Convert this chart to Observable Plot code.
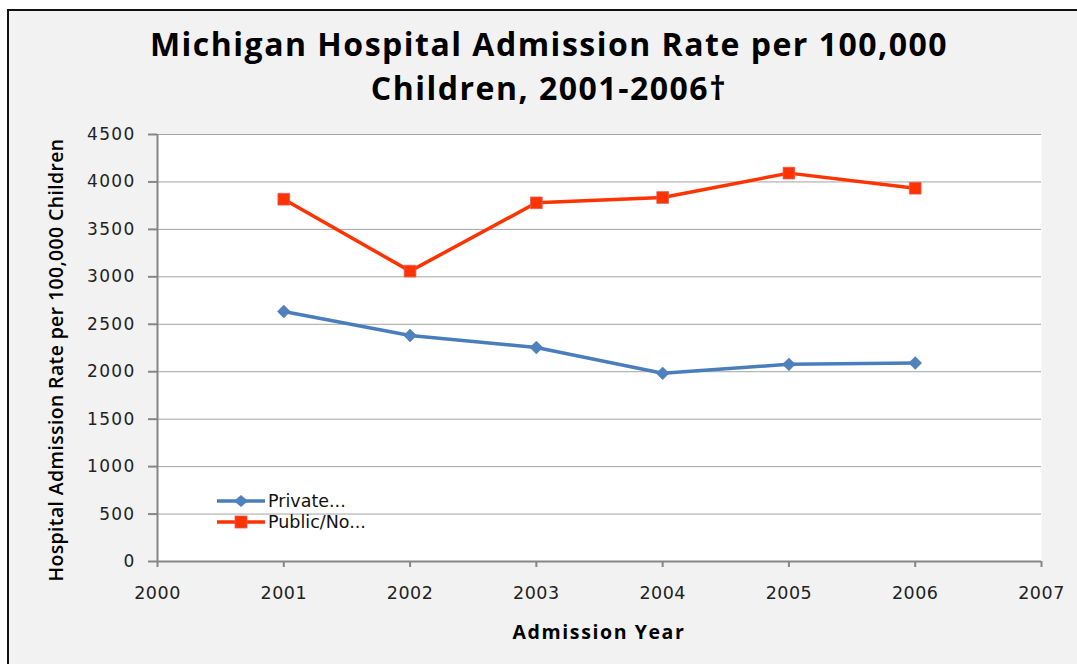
<!DOCTYPE html>
<html>
<head>
<meta charset="utf-8">
<script src="https://cdn.jsdelivr.net/npm/d3@7"></script>
<script src="https://cdn.jsdelivr.net/npm/@observablehq/plot@0.6"></script>
<style>
  html, body { margin: 0; padding: 0; background: #ffffff; }
  body { width: 1077px; height: 664px; position: relative; overflow: hidden; }
  #frame { position: absolute; left: 7px; top: 9px; width: 1200px; height: 800px;
           border-left: 2px solid #111; border-top: 2px solid #111; background: #f2f2f2; }
  #chart { position: absolute; left: 0; top: 0; }
  .title { position: absolute; left: 549px; top: 22px; transform: translateX(-50%);
           font-family: "Open Sans", sans-serif; font-weight: 700; font-size: 32px; letter-spacing: 1.5px;
           line-height: 44px; text-align: center; white-space: nowrap; color: #000; }
  .xlabel { position: absolute; left: 599px; top: 619px; transform: translateX(-50%);
            font-family: "Open Sans", sans-serif; font-weight: 700; font-size: 19.5px; letter-spacing: 1.6px;
            line-height: 26px; white-space: nowrap; color: #000; }
  .ylabel { position: absolute; left: 56px; top: 360px; transform: translate(-50%, -50%) rotate(-90deg);
            font-family: "Open Sans", sans-serif; font-weight: 600; font-size: 19.5px; letter-spacing: 0.35px;
            line-height: 24px; white-space: nowrap; color: #000; }
  .legend { position: absolute; left: 217px; top: 490px; font-family: "DejaVu Sans", sans-serif;
            font-size: 17.5px; color: #111; }
  .legend .row { display: flex; align-items: center; height: 21.5px; }
  .legend svg { display: block; margin-right: 3px; }
  g[aria-label="y-axis tick label"] text { letter-spacing: 1.3px; }
  g[aria-label="x-axis tick label"] text { letter-spacing: 0.5px; }
</style>
</head>
<body>
<div id="frame"></div>
<div id="chart"></div>
<div class="title" id="title"></div>
<div class="xlabel" id="xlabel"></div>
<div class="ylabel" id="ylabel"></div>
<div class="legend" id="legend"></div>
<script>
// ---- data ----
const years = [2001, 2002, 2003, 2004, 2005, 2006];
const privateRate = [2635, 2382, 2255, 1983, 2078, 2092];
const publicRate = [3818, 3060, 3780, 3836, 4093, 3934];
const seriesNames = ["Private...", "Public/No..."];
const xTicks = [2000, 2001, 2002, 2003, 2004, 2005, 2006, 2007];
const yTicks = [0, 500, 1000, 1500, 2000, 2500, 3000, 3500, 4000, 4500];
const titleLines = ["Michigan Hospital Admission Rate per 100,000", "Children, 2001-2006\u2020"];
const xTitle = "Admission Year";
const yTitle = "Hospital Admission Rate per 100,000 Children";

// ---- styles ----
const colors = ["#4a7ebb", "#ff3300"];
const markerFill = ["#4f81bd", "#ff3300"];

const privateData = years.map((y, i) => ({year: y, value: privateRate[i], series: seriesNames[0]}));
const publicData = years.map((y, i) => ({year: y, value: publicRate[i], series: seriesNames[1]}));

const chart = Plot.plot({
  width: 1077,
  height: 664,
  marginLeft: 157,
  marginRight: 36,
  marginTop: 134,
  marginBottom: 103,
  style: {background: "transparent", fontFamily: "DejaVu Sans, sans-serif", color: "#222", overflow: "visible"},
  x: {domain: [xTicks[0], xTicks[xTicks.length - 1]]},
  y: {domain: [yTicks[0], yTicks[yTicks.length - 1]]},
  color: {domain: seriesNames, range: colors},
  marks: [
    Plot.frame({fill: "white", stroke: null}),
    Plot.gridY(yTicks.slice(1), {stroke: "#a3a3a3", strokeOpacity: 1, strokeWidth: 1}),
    Plot.axisY(yTicks, {tickSize: 9, tickPadding: 13, tickFormat: d => String(d), stroke: "#868686",
      strokeWidth: 2, fontSize: 17, fill: "#222", label: null}),
    Plot.axisX(xTicks, {tickSize: 6, tickPadding: 19, tickFormat: d => String(d), stroke: "#868686",
      strokeWidth: 2, fontSize: 17.5, fill: "#222", label: null}),
    Plot.ruleX([xTicks[0]], {stroke: "#868686", strokeWidth: 2}),
    Plot.ruleY([yTicks[0]], {stroke: "#868686", strokeWidth: 2}),
    Plot.lineY(privateData, {x: "year", y: "value", stroke: "series", strokeWidth: 3.5}),
    Plot.lineY(publicData, {x: "year", y: "value", stroke: "series", strokeWidth: 3.5}),
    Plot.dot(privateData, {x: "year", y: "value", symbol: "diamond2", r: 5.8, fill: markerFill[0], stroke: "#4a7ebb", strokeWidth: 0.5}),
    Plot.dot(publicData, {x: "year", y: "value", symbol: "square", r: 6.6, fill: markerFill[1], stroke: "#e8585a", strokeWidth: 0.8})
  ]
});
document.getElementById("chart").appendChild(chart);

document.getElementById("title").innerHTML = titleLines.join("<br>");
document.getElementById("xlabel").textContent = xTitle;
document.getElementById("ylabel").textContent = yTitle;

// legend
const legend = document.getElementById("legend");
const symbols = ["diamond", "square"];
seriesNames.forEach((name, i) => {
  const row = document.createElement("div");
  row.className = "row";
  let marker;
  if (symbols[i] === "diamond") {
    marker = `<path d="M24,1 L31,7 L24,13 L17,7 Z" fill="${markerFill[i]}"/>`;
  } else {
    marker = `<rect x="18" y="1" width="12" height="12" fill="${markerFill[i]}" stroke="#e8585a" stroke-width="0.8"/>`;
  }
  row.innerHTML = `<svg width="48" height="14"><line x1="0" y1="7" x2="48" y2="7" stroke="${colors[i]}" stroke-width="3.5" stroke-linecap="round"/>${marker}</svg><span>${name}</span>`;
  legend.appendChild(row);
});
</script>
</body>
</html>
